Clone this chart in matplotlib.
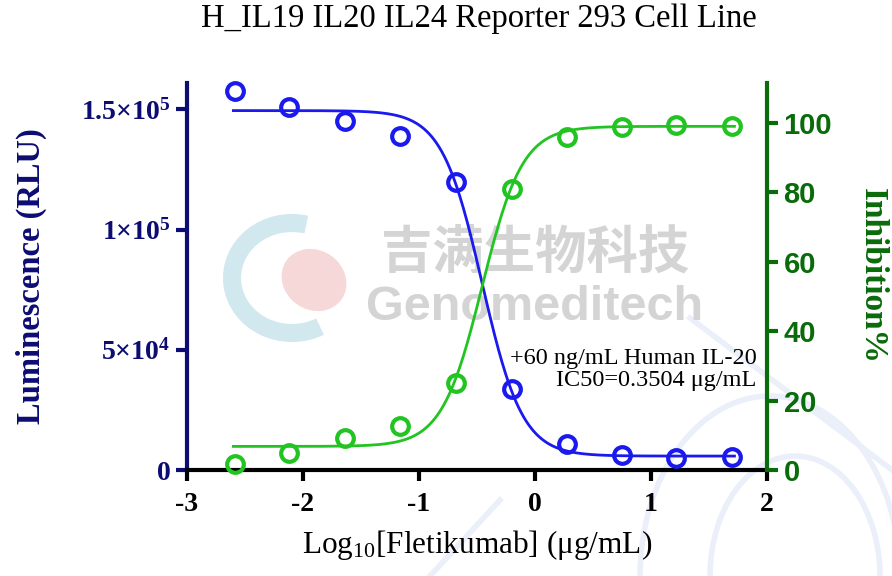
import numpy as np
import matplotlib
matplotlib.use('Agg')
import matplotlib.pyplot as plt
from matplotlib.patches import Arc, Ellipse

# log10 concentration of Fletikumab (ug/mL), 3-fold dilution from 50
log_conc = [-2.59, -2.12, -1.64, -1.16, -0.68, -0.20, 0.28, 0.75, 1.22, 1.70]
rlu = [157500, 151000, 145000, 139000, 120000, 33700, 10800, 6300, 5200, 5500]
inhib = [1.8, 5.0, 9.2, 12.8, 25.0, 81.0, 95.8, 98.8, 99.3, 99.0]

# 4PL fit parameters
rlu_fit = dict(bottom=5800, top=149500, logic50=-0.455, hill=2.5)
inh_fit = dict(bottom=6.8, top=99.0, logic50=-0.455, hill=2.5)

navy = '#0c0c72'
dgreen = '#0a6b0a'
blue = '#1a1aee'
green = '#22c422'
faint = '#eaeff9'

plt.rcParams['font.family'] = ['Liberation Serif', 'DejaVu Serif']
plt.rcParams['mathtext.fontset'] = 'custom'
plt.rcParams['mathtext.rm'] = 'Liberation Serif'
plt.rcParams['mathtext.bf'] = 'Liberation Serif:bold'
plt.rcParams['mathtext.it'] = 'Liberation Serif:italic'

def four_pl(x, bottom, top, logic50, hill, rising):
    s = 1 / (1 + 10 ** ((logic50 - x) * hill))
    if not rising:
        s = 1 - s
    return bottom + (top - bottom) * s

fig = plt.figure(figsize=(8.92, 5.76), dpi=100)

# background layer for the watermark
bg = fig.add_axes([0, 0, 1, 1], zorder=-1)
bg.set_xlim(0, 892)
bg.set_ylim(576, 0)
bg.axis('off')
bg.add_patch(Arc((292, 278), 120, 110, theta1=60, theta2=285, lw=13, color='#d2e8ef'))
bg.add_patch(Ellipse((314, 280), 66, 58, angle=35, color='#f6d8d8'))
bg.add_patch(Arc((770, 576), 260, 360, theta1=180, theta2=360, lw=4, color=faint))
bg.add_patch(Arc((795, 576), 170, 240, theta1=180, theta2=360, lw=4, color=faint))
bg.plot([690, 892], [318, 470], color=faint, lw=4)
bg.plot([430, 500], [576, 500], color=faint, lw=4)
bg.text(535, 252, '吉满生物科技', ha='center', va='center', fontsize=37,
        color='#d4d4d4', fontweight='bold', family=['Noto Sans CJK SC', 'DejaVu Sans'])
bg.text(535, 308, 'Genomeditech', ha='center', va='center', fontsize=35,
        color='#d4d4d4', fontweight='bold', family='Liberation Sans')

ax = fig.add_axes([0.2096, 0.184, 0.6502, 0.672])
ax2 = ax.twinx()

xx = np.linspace(-2.6, 1.72, 400)
ax.plot(xx, four_pl(xx, rising=False, **rlu_fit), color=blue, lw=2, zorder=3)
ax.plot(log_conc, rlu, 'o', ms=12, mfc='none', mec=blue, mew=3, zorder=4, clip_on=False)
ax2.plot(xx, four_pl(xx, rising=True, **inh_fit), color=green, lw=2, zorder=3)
ax2.plot(log_conc, inhib, 'o', ms=12, mfc='none', mec=green, mew=3, zorder=4, clip_on=False)

ax.set_xlim(-3, 2)
ax.set_ylim(0, 161000)
ax2.set_ylim(0, 111.5)

ax.set_xticks([-3, -2, -1, 0, 1, 2])
ax.set_xticklabels(['-3', '-2', '-1', '0', '1', '2'], fontsize=20, fontweight='bold')
ax.set_yticks([0, 50000, 100000, 150000])
ax.set_yticklabels(['0', r'5×10$^{\mathbf{4}}$', r'1×10$^{\mathbf{5}}$', r'1.5×10$^{\mathbf{5}}$'],
                   fontsize=20, fontweight='bold', color=navy)
ax2.set_yticks([0, 20, 40, 60, 80, 100])
ax2.set_yticklabels(['0', '20', '40', '60', '80', '100'], fontsize=21, fontweight='bold',
                    color=dgreen, family='Liberation Sans')

for a in (ax, ax2):
    a.spines['top'].set_visible(False)
    a.set_facecolor('none')
ax.spines['right'].set_visible(False)
ax.spines['left'].set_color(navy)
ax.spines['left'].set_linewidth(3)
ax.spines['bottom'].set_linewidth(3)
ax2.spines['left'].set_visible(False)
ax2.spines['bottom'].set_visible(False)
ax2.spines['right'].set_color(dgreen)
ax2.spines['right'].set_linewidth(3)
ax.tick_params(axis='x', length=8, width=3, pad=8)
ax.tick_params(axis='y', length=8, width=3, color=navy, pad=4)
ax2.tick_params(axis='y', length=8, width=3, color=dgreen, pad=4)

ax.set_ylabel('Luminescence (RLU)', fontsize=23.5, fontweight='bold', color=navy, labelpad=24)
ax2.set_ylabel('Inhibition%', fontsize=24, fontweight='bold', color=dgreen,
               rotation=270, labelpad=40)
ax.set_xlabel(r'Log$_{10}$[Fletikumab] (μg/mL)', fontsize=22.5, labelpad=8)
fig.text(0.537, 0.968, 'H_IL19 IL20 IL24 Reporter 293 Cell Line', fontsize=23.5,
         ha='center', va='center')

ax.text(0.982, 0.205, '+60 ng/mL Human IL-20\nIC50=0.3504 μg/mL', transform=ax.transAxes,
        ha='right', va='bottom', fontsize=17.5, linespacing=1.05, zorder=5)

fig.savefig('out.png', dpi=100)
